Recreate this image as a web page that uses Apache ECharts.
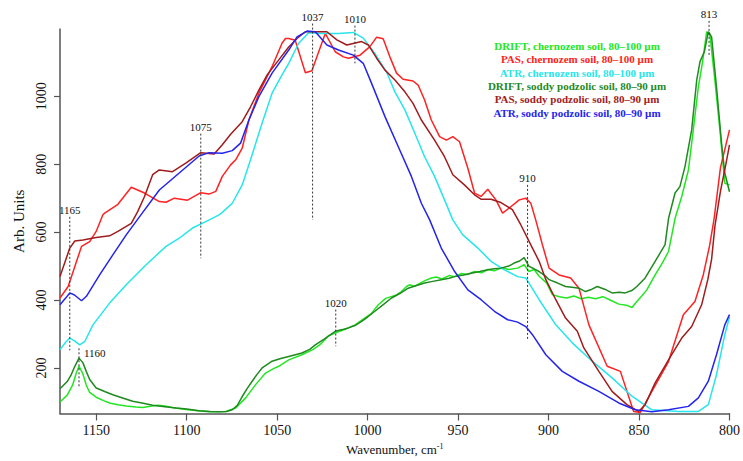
<!DOCTYPE html>
<html>
<head>
<meta charset="utf-8">
<script src="https://cdn.jsdelivr.net/npm/echarts@6/dist/echarts.min.js"></script>
<style>html,body{margin:0;padding:0;background:#fff}#c{width:743px;height:461px}</style>
</head>
<body>
<div id="c"></div>
<script>
// ---- data (wavenumber, cm-1 ; arbitrary units) ----
const xTicks = [800, 850, 900, 950, 1000, 1050, 1100, 1150];
const yTicks = [200, 400, 600, 800, 1000];

const seriesNames = [
  'DRIFT, chernozem soil, 80\u2013100 \u00b5m',
  'PAS, chernozem soil, 80\u2013100 \u00b5m',
  'ATR, chernozem soil, 80\u2013100 \u00b5m',
  'DRIFT, soddy podzolic soil, 80\u201390 \u00b5m',
  'PAS, soddy podzolic soil, 80\u201390 \u00b5m',
  'ATR, soddy podzolic soil, 80\u201390 \u00b5m'
];

const driftChernozem = [[1170,100],[1166,120],[1163,150],[1161,185],[1159.5,205],[1157.5,185],[1155.5,150],[1153.6,128],[1150,114],[1146,104],[1142.6,97],[1138,92],[1133.4,88],[1128,85],[1124.3,84],[1120,87],[1116,90],[1112,88],[1108,84],[1100.4,78],[1094,74],[1087.6,71],[1078.4,72],[1072.9,82],[1067.4,112],[1061.9,151],[1056.4,185],[1052,198],[1049.1,205],[1043.6,224],[1036.3,239],[1030,255],[1026,270],[1021.6,295],[1017,305],[1012,315],[1006.9,327],[1002,345],[998,360],[994.1,386],[990,405],[987,410],[984,415],[981.3,425],[978.5,440],[976.7,445],[974,440],[971,450],[968,458],[964.8,465],[962,468],[959,462],[955,472],[952,469],[948,478],[945,475],[940.9,484],[937,480],[933.5,490],[930,486],[926,495],[922,490],[917.1,494],[913.5,504],[910.8,484],[908,490],[905.2,470],[901,450],[897.9,416],[894,410],[890,406],[886,412],[882,404],[878,408],[874,404],[870,410],[866,400],[861.2,388],[857,385],[853.9,378],[851.2,396],[848.5,412],[845.7,430],[841.1,474],[837,510],[833.7,543],[830.1,640],[826.4,705],[822.7,783],[820,901],[817.2,1028],[815,1097],[812.6,1190],[810.8,1180],[808.1,1048],[805.3,901],[802.6,744],[800,739]];

const pasChernozem = [[1170,406],[1165.5,440],[1161.8,499],[1158.1,558],[1153.6,572],[1150,602],[1146.3,651],[1145.3,656],[1138,682],[1130.6,732],[1123.3,715],[1115.1,690],[1111.4,688],[1106.8,700],[1099.5,694],[1092.2,716],[1087.6,712],[1083.9,720],[1080.3,764],[1075.7,798],[1072.9,813],[1069.3,847],[1065.6,930],[1060.1,1009],[1052.8,1087],[1047.3,1156],[1045.4,1170],[1043.6,1170],[1040,1165],[1034.4,1069],[1030.8,1075],[1023.4,1185],[1017.9,1131],[1013.4,1116],[1010.6,1112],[1004.2,1121],[998.7,1146],[995,1174],[991.4,1169],[987.7,1116],[984,1068],[980.4,1050],[974.9,1045],[972.1,1033],[968.5,989],[964.8,930],[960.2,881],[956.5,871],[952.9,881],[949.2,866],[944.6,788],[940.9,715],[937.3,705],[933.6,726],[929.1,695],[925.4,656],[921.7,671],[916.2,695],[912.6,700],[909.8,685],[907.1,636],[903.4,563],[899.7,494],[894.2,474],[887.8,465],[883.2,435],[877.7,327],[867.6,205],[860.3,190],[853,72],[849.3,69],[842.9,131],[833.7,219],[825.5,357],[819.1,396],[814.5,474],[811,560],[808.5,640],[805,790],[800,901]];

const atrChernozem = [[1170,254],[1167,275],[1164.6,288],[1162,280],[1159.1,268],[1156.3,278],[1151.8,327],[1142.6,391],[1133.4,445],[1122.4,504],[1111.4,558],[1104.1,582],[1096.8,612],[1089.4,631],[1082.1,651],[1080.3,658],[1074.8,685],[1069.3,739],[1064.7,813],[1058.3,921],[1052.8,1009],[1047.3,1063],[1043.6,1097],[1038.1,1156],[1032.6,1187],[1025.3,1185],[1016.1,1185],[1007.9,1188],[1002.4,1171],[996,1126],[989.6,1072],[984.9,1013],[979.4,960],[973.9,891],[968.5,822],[963,764],[957.5,695],[952.9,636],[947.4,592],[939.1,553],[931.8,514],[924.4,489],[917.1,469],[912.6,465],[905.2,401],[896,327],[886.9,274],[875.9,220],[864.9,171],[853.9,117],[842.9,77],[828.2,72],[817.2,72],[811.7,92],[807.2,180],[802.6,298],[800,350]];

const driftSoddy = [[1170,139],[1166,160],[1164,178],[1161.8,205],[1159.5,229],[1157.3,215],[1155.5,190],[1153.6,166],[1150,141],[1145,130],[1140.8,121],[1135,111],[1129.8,102],[1124,96],[1118.8,90],[1112,86],[1105.9,82],[1100,79],[1093.1,74],[1087,72],[1082.1,71],[1078,72],[1074.8,77],[1072,90],[1069.3,116],[1066.5,140],[1063.8,161],[1061,182],[1058.3,200],[1055,212],[1052.8,220],[1048,228],[1043.6,234],[1036.3,244],[1032,255],[1028.9,268],[1024,285],[1017.9,308],[1014,313],[1010.6,318],[1007,325],[1003.3,337],[1000,350],[996,367],[991,388],[986.8,406],[982,420],[977.6,435],[973,443],[968.5,450],[964,455],[959.3,460],[955,464],[951.9,469],[947,474],[942.8,479],[938,484],[933.6,489],[930,492],[926.3,494],[922,500],[919,509],[916,515],[913.5,525],[910.8,499],[908,492],[905.2,484],[902,472],[899.7,460],[895,450],[890.6,440],[886,437],[883.2,435],[879.6,425],[876,432],[873.1,440],[869,432],[864.9,421],[861,423],[857.6,421],[854,428],[851.2,440],[846.6,465],[841.1,514],[835.6,563],[833.7,640],[830.1,715],[827.4,734],[824.6,793],[820.9,901],[818.1,1048],[816.3,1102],[813.9,1131],[811.7,1190],[809.9,1175],[807.2,1028],[804.4,862],[802.6,774],[800,719]];

const pasSoddy = [[1170,469],[1164.6,553],[1161.8,574],[1157.3,577],[1150,584],[1142.6,589],[1138,602],[1130.6,626],[1127,661],[1123.3,705],[1118.8,769],[1115.1,783],[1107.8,778],[1100.5,803],[1092.2,834],[1084.8,830],[1080.3,857],[1075.7,888],[1069.3,925],[1064.7,969],[1060.1,1018],[1055.5,1063],[1049.1,1107],[1043.6,1145],[1039,1170],[1034.4,1190],[1022.5,1190],[1017,1166],[1011.5,1151],[1003.3,1161],[999.6,1151],[995,1112],[990.4,1077],[984.9,1048],[979.4,1013],[974.9,979],[970.3,930],[963,871],[957.5,822],[952.9,769],[946.5,739],[940.9,710],[937.3,697],[931.8,697],[926.3,687],[920,666],[915.3,621],[908.9,553],[905.2,514],[901.5,460],[896,401],[890.6,347],[884.1,308],[880.5,259],[872.2,190],[864.9,131],[856.7,92],[850.2,72],[846.6,92],[841.1,156],[833.7,224],[826.4,288],[820.9,322],[815.4,386],[812,460],[809.9,520],[808,620],[805,720],[802,800],[800,857]];

const atrSoddy = [[1170,386],[1167,405],[1164.6,421],[1162,415],[1158.1,398],[1155.4,411],[1148.1,474],[1140.8,533],[1133.4,592],[1126.1,645],[1115.1,724],[1104.1,774],[1093.1,824],[1087.6,834],[1080.3,832],[1074.8,840],[1070.2,862],[1065.6,930],[1060.1,999],[1052.8,1068],[1043.6,1136],[1039,1175],[1033.5,1192],[1028.9,1190],[1022.5,1151],[1016.1,1136],[1007.9,1121],[1002.4,1097],[997.8,1038],[990.4,940],[983.1,852],[975.8,764],[970.3,685],[965.7,636],[959.3,553],[951.9,484],[944.6,430],[937.3,401],[929.9,367],[922.6,342],[917.1,335],[912.6,322],[908.9,298],[901.5,239],[892.4,190],[883.2,161],[872.2,131],[861.2,97],[852.1,77],[842.9,71],[833.7,77],[822.7,87],[817.2,112],[811.7,161],[807.2,239],[802.6,327],[800,357]];

// peak annotations: position (cm-1), dashed-line top and bottom (arb. units), label
const annWn     = [1164.6, 1159.5, 1092.2, 1030.4, 1007.0, 1017.6, 911.6, 811.3];
const annTop    = [645, 258, 890, 1214, 1208, 372, 739, 1222];
const annBottom = [252, 142, 523, 636, 1097, 264, 283, 1116];
const annText   = ['1165', '1160', '1075', '1037', '1010', '1020', '910', '813'];

// ---- chart ----
const colors = ['#22e622', '#ff2222', '#26e6ea', '#1f8a1f', '#a01c1c', '#2424ee'];
const seriesData = [driftChernozem, pasChernozem, atrChernozem, driftSoddy, pasSoddy, atrSoddy];
const FONT = '"Liberation Serif", "Times New Roman", serif';

const chart = echarts.init(document.getElementById('c'), null, {renderer: 'svg'});

const lineSeries = seriesData.map((d, i) => ({
  name: seriesNames[i],
  type: 'line',
  data: d,
  showSymbol: false,
  smooth: false,
  lineStyle: {color: colors[i], width: 1.5},
  itemStyle: {color: colors[i]},
  animation: false,
  z: 2
}));

const annSeries = {
  type: 'custom',
  animation: false,
  silent: true,
  clip: false,
  z: 5,
  data: annWn.map((w, i) => [w, annTop[i], annBottom[i]]),
  renderItem: function (params, api) {
    const t = api.coord([api.value(0), api.value(1)]);
    const b = api.coord([api.value(0), api.value(2)]);
    const txt = annText[params.dataIndex];
    const side = txt === '1160';
    return {
      type: 'group',
      children: [
        {type: 'line', shape: {x1: t[0], y1: t[1], x2: b[0], y2: b[1]},
         style: {stroke: '#333', lineWidth: 1, lineDash: [2, 2]}},
        {type: 'text', style: {
          text: txt,
          x: side ? t[0] + 5 : t[0],
          y: side ? t[1] + 5 : t[1] - 1,
          align: side ? 'left' : 'center',
          verticalAlign: side ? 'middle' : 'bottom',
          font: '11px ' + FONT,
          fill: '#111'
        }}
      ]
    };
  }
};

const legendGraphics = seriesNames.map((n, i) => ({
  type: 'text',
  x: 577,
  y: 45.7 + i * 13.4,
  style: {
    text: n,
    align: 'center',
    verticalAlign: 'middle',
    font: 'bold 11px ' + FONT,
    fill: colors[i]
  }
}));

const plain = v => String(v);

chart.setOption({
  backgroundColor: '#fff',
  animation: false,
  grid: {left: 60, right: 10, top: 29, bottom: 47, containLabel: false},
  xAxis: {
    type: 'value',
    inverse: true,
    min: 800,
    max: 1170,
    name: 'Wavenumber, cm{sup|-1}',
    nameLocation: 'middle',
    nameGap: 29,
    nameTextStyle: {fontFamily: FONT, fontSize: 13, color: '#111',
      rich: {sup: {fontFamily: FONT, fontSize: 8, color: '#111', verticalAlign: 'top', padding: [0, 0, 6, 0]}}},
    axisLine: {show: true, onZero: false, lineStyle: {color: '#555', width: 1.5}},
    axisTick: {show: true, length: 7, customValues: xTicks, lineStyle: {color: '#555', width: 1.2}},
    axisLabel: {customValues: xTicks, formatter: plain, fontFamily: FONT, fontSize: 14, color: '#111', margin: 10},
    splitLine: {show: false}
  },
  yAxis: {
    type: 'value',
    min: 66,
    max: 1198,
    name: 'Arb. Units',
    nameLocation: 'middle',
    nameGap: 31,
    nameTextStyle: {fontFamily: FONT, fontSize: 15, color: '#111'},
    axisLine: {show: true, onZero: false, lineStyle: {color: '#555', width: 1.5}},
    axisTick: {show: true, length: 6, customValues: yTicks, lineStyle: {color: '#555', width: 1.2}},
    axisLabel: {customValues: yTicks, formatter: plain, rotate: 90, fontFamily: FONT, fontSize: 14, color: '#111', margin: 12},
    splitLine: {show: false}
  },
  graphic: legendGraphics,
  series: lineSeries.concat([annSeries])
});
</script>
</body>
</html>
